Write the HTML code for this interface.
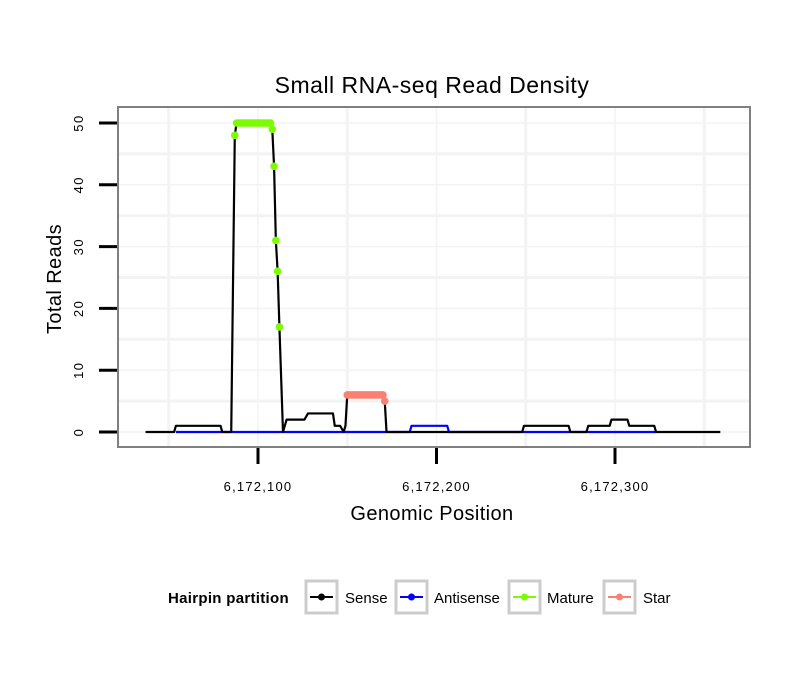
<!DOCTYPE html>
<html><head><meta charset="utf-8"><style>
body{margin:0;background:#fff;}
svg text{font-family:"Liberation Sans",sans-serif;}
</style></head><body>
<svg id="chart" width="810" height="690" xmlns="http://www.w3.org/2000/svg">
<rect x="0" y="0" width="810" height="690" fill="#fff"/>
<text x="432" y="93" font-size="23" letter-spacing="0.5" text-anchor="middle" fill="#000">Small RNA-seq Read Density</text>
<g id="grid"></g>
<g id="series"></g>
<rect x="118" y="107" width="632" height="340" fill="none" stroke="#808080" stroke-width="2"/>
<g id="axes"></g>
<text x="432" y="520" font-size="20" letter-spacing="0.4" text-anchor="middle">Genomic Position</text>
<text transform="translate(61,279) rotate(-90)" font-size="20" letter-spacing="0.4" text-anchor="middle">Total Reads</text>
<g>
<text x="168" y="603" font-size="15" letter-spacing="0.3" font-weight="bold">Hairpin partition</text>
<g>
<rect x="306" y="581" width="31" height="32" fill="#fff" stroke="#ccc" stroke-width="3"/>
<line x1="310" y1="597" x2="333" y2="597" stroke="#000" stroke-width="2"/><circle cx="321.5" cy="597" r="3.5" fill="#000"/>
<text x="345" y="603" font-size="15">Sense</text></g>
<g>
<rect x="396" y="581" width="31" height="32" fill="#fff" stroke="#ccc" stroke-width="3"/>
<line x1="400" y1="597" x2="423" y2="597" stroke="#0000ff" stroke-width="2"/><circle cx="411.5" cy="597" r="3.5" fill="#0000ff"/>
<text x="434" y="603" font-size="15">Antisense</text></g>
<g>
<rect x="509" y="581" width="31" height="32" fill="#fff" stroke="#ccc" stroke-width="3"/>
<line x1="513" y1="597" x2="536" y2="597" stroke="#7cfc00" stroke-width="2"/><circle cx="524.5" cy="597" r="3.5" fill="#7cfc00"/>
<text x="547" y="603" font-size="15">Mature</text></g>
<g>
<rect x="604" y="581" width="31" height="32" fill="#fff" stroke="#ccc" stroke-width="3"/>
<line x1="608" y1="597" x2="631" y2="597" stroke="#fa8072" stroke-width="2"/><circle cx="619.5" cy="597" r="3.5" fill="#fa8072"/>
<text x="643" y="603" font-size="15">Star</text></g>
</g>
</svg>
<script>
const senseX=[6172037,6172053,6172054,6172079,6172080,6172085,6172087,6172088,6172107,6172108,6172109,6172110,6172111,6172112,6172114,6172116,6172126,6172128,6172142,6172143,6172146,6172148,6172149,6172150,6172170,6172171,6172172,6172248,6172249,6172274,6172275,6172284,6172285,6172297,6172298,6172307,6172308,6172322,6172323,6172359];
const senseY=[0,0,1,1,0,0,48,50,50,49,43,31,26,17,0,2,2,3,3,1,1,0,1,6,6,5,0,0,1,1,0,0,1,1,2,2,1,1,0,0];
const antiX=[6172054,6172185,6172186,6172206,6172207,6172323];
const antiY=[0,0,1,1,0,0];
const matureX=[6172087,6172088,6172089,6172090,6172091,6172092,6172093,6172094,6172095,6172096,6172097,6172098,6172099,6172100,6172101,6172102,6172103,6172104,6172105,6172106,6172107,6172108,6172109,6172110,6172111,6172112];
const matureY=[48,50,50,50,50,50,50,50,50,50,50,50,50,50,50,50,50,50,50,50,50,49,43,31,26,17];
const starX=[6172150,6172151,6172152,6172153,6172154,6172155,6172156,6172157,6172158,6172159,6172160,6172161,6172162,6172163,6172164,6172165,6172166,6172167,6172168,6172169,6172170,6172171];
const starY=[6,6,6,6,6,6,6,6,6,6,6,6,6,6,6,6,6,6,6,6,6,5];
const xTicks=[6172100,6172200,6172300];
const xTickLabels=["6,172,100","6,172,200","6,172,300"];
const xGrid=[6172050,6172150,6172250,6172350];
const yTicks=[0,10,20,30,40,50];
const yGrid=[5,15,25,35,45];
const NS="http://www.w3.org/2000/svg";
function sx(v){return 258+(v-6172100)*1.785;}
function sy(v){return 432-v*6.18;}
function mk(tag,attrs,parent){const e=document.createElementNS(NS,tag);for(const k in attrs)e.setAttribute(k,attrs[k]);parent.appendChild(e);return e;}
const grid=document.getElementById('grid'),ser=document.getElementById('series'),axes=document.getElementById('axes');
yGrid.concat(yTicks).forEach(v=>{const l=mk('line',{x1:118,x2:750,y1:sy(v),y2:sy(v),stroke:'#f3f3f3','stroke-width':yGrid.includes(v)?3:1.5},grid);

});
xGrid.concat(xTicks).forEach(v=>{const l=mk('line',{x1:sx(v),x2:sx(v),y1:107,y2:447,stroke:'#f3f3f3','stroke-width':xGrid.includes(v)?3:1.5},grid);

});
function line(xs,ys,color,name){const p=mk('polyline',{points:xs.map((x,i)=>sx(x)+','+sy(ys[i])).join(' '),fill:'none',stroke:color,'stroke-width':2.2,'stroke-linejoin':'round'},ser);

}
function pts(xs,ys,color,name){xs.forEach((x,i)=>{const c=mk('circle',{cx:sx(x),cy:sy(ys[i]),r:3.8,fill:color},ser);

});}
line(antiX,antiY,'#0000ff','antisense-line');
line(senseX,senseY,'#000','sense-line');
pts(matureX,matureY,'#7cfc00','mature-point');
pts(starX,starY,'#fa8072','star-point');
yTicks.forEach(v=>{const t=mk('line',{x1:99,x2:117,y1:sy(v),y2:sy(v),stroke:'#000','stroke-width':3},axes);


const tx=mk('text',{transform:`translate(83,${sy(v)}) rotate(-90)`,'font-size':13,'letter-spacing':1.5,'text-anchor':'middle'},axes);tx.textContent=v;

});
xTicks.forEach((v,i)=>{const t=mk('line',{x1:sx(v),x2:sx(v),y1:448,y2:464,stroke:'#000','stroke-width':3},axes);


const tx=mk('text',{x:sx(v),y:491,'font-size':13,'letter-spacing':1.2,'text-anchor':'middle'},axes);tx.textContent=xTickLabels[i];

});
</script>
</body></html>
